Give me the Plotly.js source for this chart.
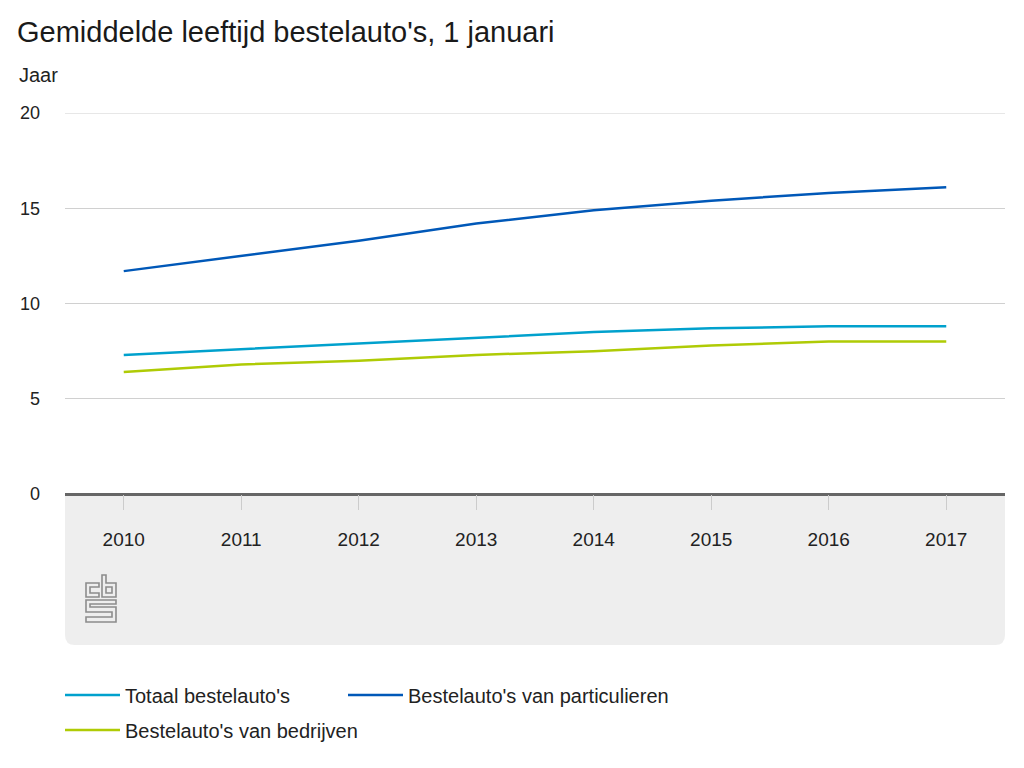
<!DOCTYPE html>
<html>
<head>
<meta charset="utf-8">
<script src="https://cdn.plot.ly/plotly-3.0.1.min.js"></script>
<style>
  html, body { margin: 0; padding: 0; background: #fff; }
  #chart { width: 1024px; height: 768px; }
</style>
</head>
<body>
<div id="chart"></div>
<script>
const years = [2010, 2011, 2012, 2013, 2014, 2015, 2016, 2017];
const totaal = [7.3, 7.6, 7.9, 8.2, 8.5, 8.7, 8.8, 8.8];
const particulieren = [11.7, 12.5, 13.3, 14.2, 14.9, 15.4, 15.8, 16.1];
const bedrijven = [6.4, 6.8, 7.0, 7.3, 7.5, 7.8, 8.0, 8.0];
const seriesNames = ["Totaal bestelauto's", "Bestelauto's van particulieren", "Bestelauto's van bedrijven"];
const yTicks = [0, 5, 10, 15, 20];

const FONT = 'Liberation Sans, Arial, sans-serif';

const traces = [
  { x: years, y: totaal, name: seriesNames[0], type: 'scatter', mode: 'lines',
    line: { color: '#00a1cd', width: 2.5 }, legend: 'legend' },
  { x: years, y: particulieren, name: seriesNames[1], type: 'scatter', mode: 'lines',
    line: { color: '#0058b8', width: 2.5 }, legend: 'legend2' },
  { x: years, y: bedrijven, name: seriesNames[2], type: 'scatter', mode: 'lines',
    line: { color: '#afcb05', width: 2.5 }, legend: 'legend3' }
];

const logoSvg = '<svg xmlns="http://www.w3.org/2000/svg" width="34" height="50" viewBox="0 0 34 50">' +
  '<g fill="none" stroke="#8c8c8c" stroke-width="1.6">' +
  '<path d="M15,9 H2 V23 H15 V19 H6 V13 H15 Z"/>' +
  '<path d="M18,1 H22 V9 H32 V23 H18 Z"/>' +
  '<path d="M22,13 H28 V19 H22 Z"/>' +
  '<path d="M32,26 H2 V38 H28 V43 H2 V48 H32 V33 H6 V30 H32 Z"/>' +
  '</g></svg>';
const logoUri = 'data:image/svg+xml;base64,' + btoa(logoSvg);

const boxB = -0.396, rx = 10/940, ry = 10/381;
const boxPath = `M 0,0 L 1,0 L 1,${boxB+ry} Q 1,${boxB} ${1-rx},${boxB} L ${rx},${boxB} Q 0,${boxB} 0,${boxB+ry} Z`;

function legendAt(px, py) {
  return {
    orientation: 'h', xref: 'paper', yref: 'paper',
    x: (px-65)/940, y: (494-py)/381, xanchor: 'left', yanchor: 'middle',
    itemwidth: 55,
    font: { family: FONT, size: 20, color: '#222222' },
    bgcolor: 'rgba(0,0,0,0)'
  };
}

const layout = {
  width: 1024, height: 768,
  margin: { l: 65, r: 19, t: 113, b: 274 },
  paper_bgcolor: '#ffffff',
  plot_bgcolor: '#ffffff',
  font: { family: FONT, color: '#222222', size: 19 },
  title: {
    text: "Gemiddelde leeftijd bestelauto's, 1 januari",
    x: 17/1024, xanchor: 'left', xref: 'container',
    y: 1 - 32/768, yanchor: 'middle', yref: 'container',
    font: { family: FONT, size: 29, color: '#1a1a1a' }
  },
  xaxis: {
    range: [2009.5, 2017.5],
    tickvals: years,
    ticktext: years.map(String),
    showgrid: false,
    zeroline: false,
    showline: false,
    ticks: 'outside',
    ticklen: 15,
    tickwidth: 1,
    tickcolor: '#cccccc',
    ticklabelstandoff: 13,
    tickfont: { family: FONT, size: 19, color: '#222222' },
    fixedrange: true
  },
  yaxis: {
    range: [0, 20],
    tickvals: yTicks,
    ticktext: yTicks.map(String),
    showgrid: true,
    gridcolor: '#d0d0d0',
    gridwidth: 1,
    zeroline: true,
    zerolinecolor: '#666666',
    zerolinewidth: 3,
    showline: false,
    ticks: '',
    ticklabelstandoff: 24,
    tickfont: { family: FONT, size: 18, color: '#222222' },
    fixedrange: true
  },
  shapes: [
    { type: 'path', xref: 'paper', yref: 'paper', path: boxPath,
      fillcolor: '#eeeeee', line: { width: 0 }, layer: 'below' },
    { type: 'line', xref: 'paper', yref: 'y', x0: 0, x1: 1, y0: yTicks[yTicks.length-1], y1: yTicks[yTicks.length-1],
      line: { color: '#d0d0d0', width: 1 }, layer: 'below' }
  ],
  images: [
    { source: logoUri, xref: 'paper', yref: 'paper',
      x: (84-65)/940, y: (494-574)/381, sizex: 34/940, sizey: 50/381,
      xanchor: 'left', yanchor: 'top', sizing: 'stretch', layer: 'above' }
  ],
  annotations: [
    { text: 'Jaar', xref: 'paper', yref: 'paper',
      x: (17-65)/940, y: (494-75)/381, xanchor: 'left', yanchor: 'middle',
      showarrow: false, font: { family: FONT, size: 20, color: '#222222' } }
  ],
  showlegend: true,
  legend: legendAt(60, 695),
  legend2: legendAt(343, 695),
  legend3: legendAt(60, 730)
};

Plotly.newPlot('chart', traces, layout, { displayModeBar: false, staticPlot: true });
</script>
</body>
</html>
